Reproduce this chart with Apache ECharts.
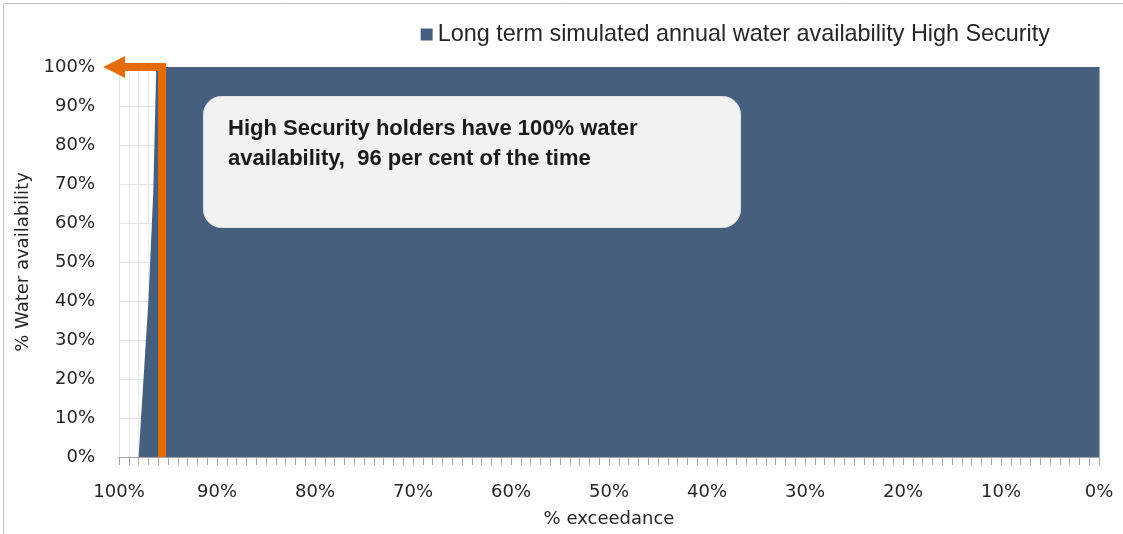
<!DOCTYPE html>
<html><head><meta charset="utf-8">
<script src="https://cdn.jsdelivr.net/npm/echarts@6/dist/echarts.min.js"></script>
<style>html,body{margin:0;padding:0;background:#fff}#c{width:1123px;height:534px}</style>
</head><body><div id="c"></div>
<script>
// Area curve: % exceedance vs % water availability
const exceedance = [100, 98.0, 97.0, 96.5, 96.2, 0];
const availability = [0, 0, 40, 68, 100, 100];
// Orange marker: 100% availability reached at ~96% exceedance
const markerExceedance = [95.6, 95.6, 100];
const markerAvailability = [0, 100, 100];
const arrowExceedance = [95.6, 100.5];
const arrowAvailability = [100, 100];
const seriesName = 'Long term simulated annual water availability High Security';
const noteLines = ['High Security holders have 100% water', 'availability,  96 per cent of the time'];

const chart = echarts.init(document.getElementById('c'), null, {renderer: 'canvas'});
const axisFont = 'DejaVu Sans';
chart.setOption({
  animation: false,
  backgroundColor: '#ffffff',
  grid: {left: 119, right: 24, top: 67, bottom: 77, containLabel: false},
  legend: {
    data: [seriesName], right: 68, top: 18, icon: 'rect', itemWidth: 12, itemHeight: 12, itemGap: 8,
    textStyle: {fontFamily: 'Liberation Sans', fontSize: 23.4, color: '#262626'}
  },
  xAxis: {
    type: 'value', inverse: true, min: 0, max: 100, interval: 10,
    name: '% exceedance', nameLocation: 'middle', nameGap: 53,
    nameTextStyle: {fontFamily: axisFont, fontSize: 18, color: '#262626'},
    axisLine: {show: true, lineStyle: {color: '#a6a6a6', width: 1}},
    axisTick: {show: true, length: 8, lineStyle: {color: '#a6a6a6'}},
    minorTick: {show: true, splitNumber: 10, length: 8, lineStyle: {color: '#a6a6a6'}},
    axisLabel: {formatter: '{value}%', margin: 26, fontFamily: axisFont, fontSize: 18, color: '#262626'},
    splitLine: {show: true, lineStyle: {color: '#e3e3e3'}},
    minorSplitLine: {show: true, lineStyle: {color: '#ebebeb'}}
  },
  yAxis: {
    type: 'value', min: 0, max: 100, interval: 10,
    name: '% Water availability', nameLocation: 'middle', nameGap: 82,
    nameTextStyle: {fontFamily: axisFont, fontSize: 18, color: '#262626'},
    axisLine: {show: true, lineStyle: {color: '#a6a6a6', width: 1}},
    axisTick: {show: true, length: 8, lineStyle: {color: '#a6a6a6'}},
    axisLabel: {formatter: '{value}%', margin: 24, fontFamily: axisFont, fontSize: 18, color: '#262626'},
    splitLine: {show: true, lineStyle: {color: '#e3e3e3'}}
  },
  series: [
    {
      name: seriesName, type: 'line', showSymbol: false, symbol: 'none',
      data: exceedance.map((x, i) => [x, availability[i]]),
      itemStyle: {color: '#475f7f'},
      lineStyle: {width: 0},
      areaStyle: {color: '#475f7f', opacity: 1},
      z: 2
    },
    {
      name: 'marker', type: 'line', showSymbol: false, symbol: 'none', clip: false,
      data: markerExceedance.map((x, i) => [x, markerAvailability[i]]),
      lineStyle: {color: '#e46c0a', width: 8, join: 'miter', cap: 'butt'},
      z: 5
    },
    {
      name: 'arrow', type: 'lines', coordinateSystem: 'cartesian2d', clip: false,
      symbol: ['none', 'triangle'], symbolSize: 22,
      data: [{coords: arrowExceedance.map((x, i) => [x, arrowAvailability[i]])}],
      lineStyle: {color: '#e46c0a', width: 8, opacity: 1},
      z: 5
    }
  ],
  graphic: [
    {type: 'rect', left: 1, top: 1, shape: {width: 1120, height: 531}, style: {fill: 'none', stroke: '#bfbfbf', lineWidth: 1}, z: 100, silent: true},
    {type: 'rect', left: 203, top: 96, shape: {width: 537, height: 131, r: 18}, style: {fill: '#f2f2f2', stroke: '#e0e0e0', lineWidth: 1}, z: 50},
    {type: 'text', left: 228, top: 114, z: 51,
     style: {text: noteLines.join('\n'), fill: '#1a1a1a', font: 'bold 22px "Liberation Sans"', lineHeight: 30}}
  ]
});
</script></body></html>
